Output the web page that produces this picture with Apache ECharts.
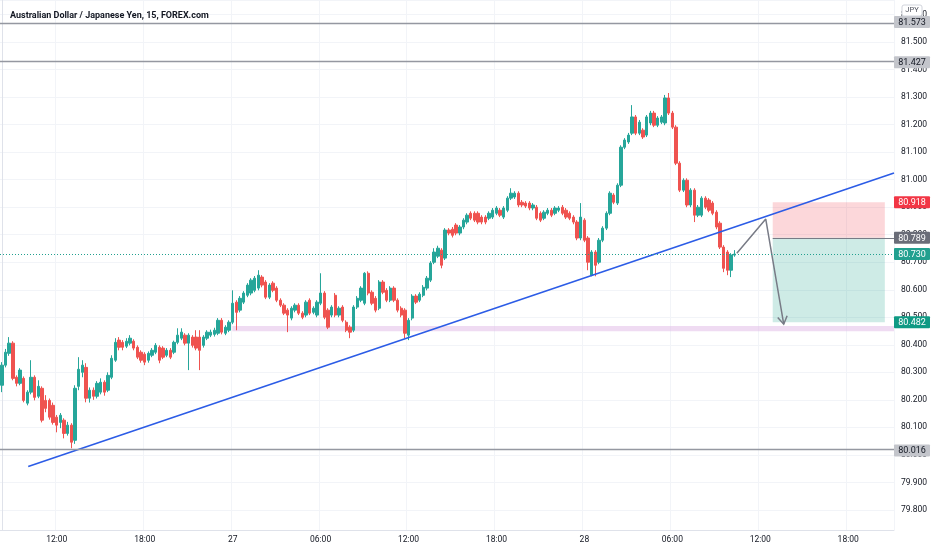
<!DOCTYPE html>
<html>
<head>
<meta charset="utf-8">
<script src="https://cdn.jsdelivr.net/npm/echarts@6/dist/echarts.min.js"></script>
<style>
html, body { margin: 0; padding: 0; background: #fff; }
#chart { width: 932px; height: 550px; }
</style>
</head>
<body>
<div id="chart"></div>
<script>
// 15 min candles, AUD/JPY, from 26th 08:15 to 28th 10:15
const opens = [
  80.253, 80.326, 80.369, 80.406, 80.282, 80.260, 80.278, 80.188, 80.228, 80.282,
  80.213, 80.242, 80.198, 80.198, 80.180, 80.137, 80.118, 80.126, 80.078, 80.108,
  80.053, 80.249, 80.300, 80.318, 80.206, 80.235, 80.213, 80.228, 80.264, 80.235,
  80.282, 80.344, 80.417, 80.409, 80.395, 80.406, 80.413, 80.391, 80.373, 80.366,
  80.344, 80.362, 80.373, 80.391, 80.388, 80.362, 80.380, 80.373, 80.409, 80.424,
  80.435, 80.406, 80.428, 80.428, 80.428, 80.398, 80.424, 80.435, 80.438, 80.442,
  80.489, 80.442, 80.453, 80.482, 80.555, 80.526, 80.555, 80.580, 80.588, 80.598,
  80.606, 80.646, 80.628, 80.573, 80.624, 80.606, 80.562, 80.544, 80.526, 80.497,
  80.526, 80.544, 80.515, 80.508, 80.562, 80.518, 80.508, 80.551, 80.588, 80.526,
  80.508, 80.580, 80.508, 80.537, 80.482, 80.464, 80.453, 80.537, 80.562, 80.551,
  80.660, 80.591, 80.569, 80.533, 80.628, 80.598, 80.562, 80.606, 80.562, 80.533,
  80.526, 80.435, 80.497, 80.577, 80.562, 80.580, 80.606, 80.635, 80.700, 80.722,
  80.744, 80.715, 80.817, 80.820, 80.835, 80.806, 80.828, 80.846, 80.878, 80.878,
  80.878, 80.864, 80.864, 80.860, 80.864, 80.878, 80.889, 80.864, 80.889, 80.933,
  80.937, 80.951, 80.918, 80.915, 80.915, 80.897, 80.900, 80.878, 80.860, 80.878,
  80.889, 80.878, 80.889, 80.900, 80.889, 80.878, 80.864, 80.846, 80.788, 80.853,
  80.788, 80.653, 80.737, 80.700, 80.780, 80.824, 80.878, 80.944, 80.915, 80.980,
  81.118, 81.137, 81.169, 81.228, 81.169, 81.180, 81.162, 81.206, 81.242, 81.198,
  81.209, 81.206, 81.297, 81.242, 81.191, 81.060, 80.962, 80.998, 80.908, 80.962,
  80.871, 80.871, 80.933, 80.926, 80.915, 80.882, 80.842, 80.755, 80.737, 80.671,
  80.726
];
const closes = [
  80.326, 80.373, 80.406, 80.278, 80.260, 80.308, 80.198, 80.228, 80.282, 80.209,
  80.249, 80.126, 80.169, 80.137, 80.118, 80.108, 80.144, 80.078, 80.108, 80.046,
  80.242, 80.311, 80.326, 80.206, 80.235, 80.213, 80.260, 80.264, 80.228, 80.289,
  80.351, 80.409, 80.391, 80.391, 80.413, 80.424, 80.388, 80.355, 80.344, 80.337,
  80.369, 80.380, 80.398, 80.344, 80.355, 80.380, 80.355, 80.409, 80.435, 80.446,
  80.406, 80.435, 80.398, 80.388, 80.380, 80.428, 80.446, 80.446, 80.453, 80.489,
  80.446, 80.464, 80.482, 80.551, 80.518, 80.569, 80.588, 80.617, 80.635, 80.642,
  80.653, 80.617, 80.573, 80.617, 80.598, 80.562, 80.544, 80.515, 80.508, 80.533,
  80.544, 80.515, 80.500, 80.555, 80.515, 80.533, 80.555, 80.588, 80.500, 80.464,
  80.537, 80.508, 80.533, 80.489, 80.453, 80.446, 80.537, 80.569, 80.606, 80.660,
  80.588, 80.551, 80.526, 80.628, 80.591, 80.562, 80.606, 80.562, 80.526, 80.508,
  80.442, 80.489, 80.577, 80.555, 80.584, 80.609, 80.642, 80.697, 80.737, 80.751,
  80.689, 80.817, 80.806, 80.798, 80.806, 80.828, 80.853, 80.871, 80.860, 80.853,
  80.846, 80.846, 80.846, 80.878, 80.889, 80.897, 80.871, 80.897, 80.933, 80.951,
  80.951, 80.908, 80.908, 80.904, 80.897, 80.908, 80.860, 80.853, 80.882, 80.889,
  80.871, 80.897, 80.897, 80.878, 80.864, 80.860, 80.846, 80.788, 80.864, 80.780,
  80.700, 80.737, 80.689, 80.780, 80.824, 80.878, 80.951, 80.918, 80.980, 81.118,
  81.144, 81.162, 81.228, 81.169, 81.209, 81.155, 81.228, 81.242, 81.198, 81.224,
  81.228, 81.297, 81.242, 81.191, 81.060, 80.962, 80.998, 80.908, 80.962, 80.871,
  80.900, 80.933, 80.900, 80.889, 80.878, 80.828, 80.755, 80.678, 80.671, 80.726,
  80.730
];
const lows = [
  80.228, 80.318, 80.360, 80.271, 80.249, 80.253, 80.191, 80.180, 80.220, 80.198,
  80.206, 80.118, 80.155, 80.128, 80.110, 80.082, 80.097, 80.060, 80.070, 80.024,
  80.040, 80.235, 80.282, 80.191, 80.190, 80.200, 80.205, 80.220, 80.215, 80.228,
  80.275, 80.338, 80.380, 80.380, 80.388, 80.398, 80.380, 80.348, 80.335, 80.326,
  80.335, 80.355, 80.366, 80.333, 80.348, 80.355, 80.348, 80.366, 80.402, 80.417,
  80.398, 80.308, 80.390, 80.380, 80.308, 80.390, 80.417, 80.428, 80.430, 80.435,
  80.438, 80.435, 80.446, 80.475, 80.453, 80.518, 80.548, 80.573, 80.580, 80.591,
  80.598, 80.609, 80.566, 80.566, 80.591, 80.555, 80.537, 80.508, 80.446, 80.489,
  80.518, 80.508, 80.493, 80.500, 80.508, 80.511, 80.500, 80.544, 80.493, 80.457,
  80.500, 80.500, 80.500, 80.482, 80.446, 80.424, 80.446, 80.530, 80.555, 80.544,
  80.580, 80.544, 80.518, 80.526, 80.584, 80.555, 80.555, 80.555, 80.518, 80.500,
  80.424, 80.417, 80.489, 80.548, 80.555, 80.573, 80.598, 80.628, 80.693, 80.715,
  80.678, 80.708, 80.798, 80.790, 80.798, 80.798, 80.820, 80.838, 80.853, 80.846,
  80.838, 80.838, 80.838, 80.853, 80.857, 80.871, 80.864, 80.857, 80.882, 80.926,
  80.930, 80.900, 80.900, 80.897, 80.889, 80.889, 80.853, 80.846, 80.853, 80.871,
  80.864, 80.871, 80.882, 80.871, 80.857, 80.853, 80.838, 80.780, 80.780, 80.773,
  80.671, 80.649, 80.649, 80.693, 80.773, 80.817, 80.871, 80.911, 80.908, 80.973,
  81.111, 81.130, 81.162, 81.162, 81.162, 81.148, 81.155, 81.198, 81.191, 81.191,
  81.202, 81.198, 81.235, 81.184, 81.053, 80.955, 80.955, 80.900, 80.900, 80.846,
  80.864, 80.864, 80.893, 80.882, 80.871, 80.820, 80.748, 80.664, 80.653, 80.646,
  80.720
];
const highs = [
  80.337, 80.385, 80.428, 80.413, 80.289, 80.315, 80.285, 80.235, 80.344, 80.289,
  80.271, 80.249, 80.217, 80.205, 80.190, 80.145, 80.152, 80.133, 80.120, 80.115,
  80.253, 80.355, 80.344, 80.333, 80.245, 80.245, 80.268, 80.278, 80.271, 80.300,
  80.362, 80.424, 80.428, 80.417, 80.424, 80.435, 80.420, 80.398, 80.380, 80.373,
  80.376, 80.388, 80.406, 80.398, 80.395, 80.388, 80.388, 80.415, 80.460, 80.460,
  80.442, 80.442, 80.435, 80.453, 80.453, 80.435, 80.453, 80.455, 80.462, 80.497,
  80.497, 80.471, 80.489, 80.598, 80.562, 80.577, 80.595, 80.624, 80.642, 80.650,
  80.671, 80.653, 80.635, 80.624, 80.631, 80.613, 80.569, 80.551, 80.533, 80.540,
  80.551, 80.551, 80.522, 80.562, 80.569, 80.540, 80.562, 80.660, 80.595, 80.533,
  80.544, 80.588, 80.540, 80.544, 80.489, 80.471, 80.544, 80.577, 80.613, 80.664,
  80.667, 80.598, 80.577, 80.635, 80.635, 80.606, 80.613, 80.613, 80.569, 80.540,
  80.533, 80.497, 80.584, 80.584, 80.591, 80.617, 80.650, 80.704, 80.751, 80.760,
  80.751, 80.824, 80.824, 80.828, 80.842, 80.835, 80.860, 80.878, 80.885, 80.885,
  80.885, 80.871, 80.871, 80.885, 80.897, 80.904, 80.897, 80.904, 80.940, 80.969,
  80.958, 80.958, 80.926, 80.922, 80.922, 80.915, 80.908, 80.885, 80.889, 80.897,
  80.897, 80.904, 80.904, 80.908, 80.897, 80.885, 80.871, 80.853, 80.915, 80.860,
  80.795, 80.744, 80.744, 80.788, 80.831, 80.885, 80.958, 80.951, 80.987, 81.125,
  81.151, 81.170, 81.271, 81.235, 81.217, 81.187, 81.235, 81.250, 81.250, 81.231,
  81.235, 81.308, 81.315, 81.250, 81.198, 81.067, 81.005, 81.005, 80.969, 80.969,
  80.908, 80.940, 80.940, 80.933, 80.922, 80.889, 80.849, 80.762, 80.744, 80.733,
  80.744
];

// time slots shown on the axis (incl. empty space right of the last bar)
const startDay = 26;
const startMinute = 8 * 60 + 15;
const slotMinutes = 15;
const slotCount = 244;

// drawings (x in bar index, y in price)
const levelLines = [81.573, 81.427, 80.016];
const lastPrice = 80.730;
const trendLine = [[7.2, 79.958], [243.5, 81.024]];
const zoneX = [62.9, 243.5];
const zoneY = [80.449, 80.468];
const boxX = [210.4, 241];
const stopPrice = 80.918;
const entryPrice = 80.789;
const targetPrice = 80.482;
const arrowPath = [[200.6, 80.733], [208.5, 80.857], [213.4, 80.475]];

const priceTags = [
  { value: 81.573, bg: '#c3c5cb', fg: '#131722' },
  { value: 81.427, bg: '#c3c5cb', fg: '#131722' },
  { value: 80.918, bg: '#f23645', fg: '#ffffff' },
  { value: 80.789, bg: '#6a6d78', fg: '#ffffff' },
  { value: 80.730, bg: '#22a08f', fg: '#ffffff' },
  { value: 80.482, bg: '#0f9a84', fg: '#ffffff' },
  { value: 80.016, bg: '#c3c5cb', fg: '#131722' }
];

const fontFam = 'Roboto, "Liberation Sans", sans-serif';

function pad(n) { return n < 10 ? '0' + n : '' + n; }

let times = [];
for (let k = 0; k < slotCount; k++) {
    let m = startMinute + k * slotMinutes;
    let d = startDay + Math.floor(m / 1440);
    let mm = m % 1440;
    times.push(d + ' ' + pad(Math.floor(mm / 60)) + ':' + pad(mm % 60));
}

function isMajorTick(idx, val) {
    let t = val.split(' ')[1].split(':').map(Number);
    return t[1] === 0 && t[0] % 6 === 0;
}

let candles = opens.map(function (o, i) {
    return [o, closes[i], lows[i], highs[i]];
});

let myChart = echarts.init(document.getElementById('chart'));

let option = {
    animation: false,
    backgroundColor: '#ffffff',
    title: {
        text: 'Australian Dollar / Japanese Yen, 15, FOREX.com',
        left: 5,
        top: 6,
        textStyle: { fontSize: 9, fontWeight: 'bold', color: '#131722', fontFamily: fontFam }
    },
    grid: { left: 0, right: 38, top: 0, bottom: 20 },
    xAxis: [
        {
            type: 'category',
            data: times,
            boundaryGap: true,
            axisLine: { show: true, lineStyle: { color: '#dfe2ea' } },
            axisTick: { show: false },
            axisLabel: {
                interval: isMajorTick,
                margin: 5,
                color: '#131722',
                fontSize: 8.5,
                fontFamily: fontFam,
                formatter: function (val) {
                    let p = val.split(' ');
                    return p[1] === '00:00' ? p[0] : p[1];
                }
            },
            splitLine: { show: true, interval: isMajorTick, lineStyle: { color: '#f2f4f8' } }
        },
        {
            type: 'value',
            min: -0.5,
            max: slotCount - 0.5,
            show: false
        }
    ],
    yAxis: {
        type: 'value',
        position: 'right',
        min: 79.727,
        max: 81.653,
        splitNumber: 15,
        axisLine: { show: true, lineStyle: { color: '#dfe2ea' } },
        axisTick: { show: false },
        axisLabel: {
            showMinLabel: false,
            showMaxLabel: false,
            margin: 7,
            color: '#131722',
            fontSize: 8.5,
            fontFamily: fontFam,
            formatter: function (v) { return v.toFixed(3); }
        },
        splitLine: { lineStyle: { color: '#f2f4f8' } }
    },
    series: [
        {
            // zone + position boxes
            type: 'line',
            xAxisIndex: 1,
            data: [[zoneX[0], zoneY[0]]],
            symbol: 'none',
            lineStyle: { opacity: 0 },
            silent: true,
            z: 1,
            markArea: {
                silent: true,
                data: [
                    [{ coord: [zoneX[0], zoneY[1]], itemStyle: { color: 'rgba(225,190,231,0.55)' } },
                     { coord: [zoneX[1], zoneY[0]] }],
                    [{ coord: [boxX[0], stopPrice], itemStyle: { color: 'rgba(242,54,69,0.2)' } },
                     { coord: [boxX[1], entryPrice] }],
                    [{ coord: [boxX[0], entryPrice], itemStyle: { color: 'rgba(8,153,129,0.2)' } },
                     { coord: [boxX[1], targetPrice] }]
                ]
            },
            markLine: {
                silent: true,
                symbol: ['none', 'none'],
                label: { show: false },
                data: [
                    [{ coord: [boxX[0], entryPrice] }, { coord: [zoneX[1], entryPrice] }]
                ],
                lineStyle: { color: '#787b86', width: 1, type: 'solid' }
            }
        },
        {
            // horizontal levels + last price line
            type: 'line',
            xAxisIndex: 1,
            data: [[zoneX[0], zoneY[0]]],
            symbol: 'none',
            lineStyle: { opacity: 0 },
            silent: true,
            z: 1,
            markLine: {
                silent: true,
                symbol: ['none', 'none'],
                label: { show: false },
                data: levelLines.map(function (v) {
                    return { yAxis: v, lineStyle: { color: '#9598a1', width: 1.3, type: 'solid' } };
                }).concat([
                    { yAxis: lastPrice, lineStyle: { color: '#22a08f', width: 1, type: [1, 2] } }
                ])
            }
        },
        {
            type: 'candlestick',
            data: candles,
            barWidth: '78%',
            z: 2,
            itemStyle: {
                color: '#26a69a',
                color0: '#ef5350',
                borderColor: '#26a69a',
                borderColor0: '#ef5350',
                borderWidth: 1
            }
        },
        {
            type: 'line',
            xAxisIndex: 1,
            data: trendLine,
            symbol: 'none',
            z: 4,
            lineStyle: { color: '#2c5ce6', width: 1.6 }
        },
        {
            type: 'line',
            xAxisIndex: 1,
            data: arrowPath,
            symbol: 'none',
            z: 4,
            lineStyle: { color: '#787b86', width: 1.5 }
        }
    ]
};

myChart.setOption(option);

// price tags on the right scale, JPY box and the arrow head
let gfx = [];
priceTags.forEach(function (t) {
    let y = myChart.convertToPixel({ yAxisIndex: 0 }, t.value);
    gfx.push({
        type: 'rect',
        shape: { x: 894, y: y - 6, width: 36, height: 12, r: 1 },
        style: { fill: t.bg },
        z: 100
    });
    gfx.push({
        type: 'text',
        style: {
            text: t.value.toFixed(3), x: 912, y: y + 0.5,
            align: 'center', verticalAlign: 'middle',
            fill: t.fg, fontSize: 9, fontFamily: fontFam
        },
        z: 101
    });
});
gfx.push({
    type: 'rect',
    shape: { x: 902, y: 5, width: 20, height: 11, r: 2 },
    style: { fill: '#ffffff', stroke: '#d1d4dc', lineWidth: 1 },
    z: 100
});
gfx.push({
    type: 'text',
    style: {
        text: 'JPY', x: 912, y: 10.5, align: 'center', verticalAlign: 'middle',
        fill: '#50535e', fontSize: 7.5, fontFamily: fontFam
    },
    z: 101
});

let pA = myChart.convertToPixel({ xAxisIndex: 1, yAxisIndex: 0 }, arrowPath[1]);
let pE = myChart.convertToPixel({ xAxisIndex: 1, yAxisIndex: 0 }, arrowPath[2]);
let dx = pE[0] - pA[0], dy = pE[1] - pA[1];
let len = Math.sqrt(dx * dx + dy * dy);
dx /= len; dy /= len;
let ang = 32 * Math.PI / 180, hl = 9;
function rot(a) {
    return [pE[0] - hl * (dx * Math.cos(a) - dy * Math.sin(a)),
            pE[1] - hl * (dx * Math.sin(a) + dy * Math.cos(a))];
}
gfx.push({
    type: 'polyline',
    shape: { points: [rot(ang), pE, rot(-ang)] },
    style: { stroke: '#787b86', lineWidth: 1.5, fill: null },
    z: 50
});

myChart.setOption({ graphic: gfx });
</script>
</body>
</html>
